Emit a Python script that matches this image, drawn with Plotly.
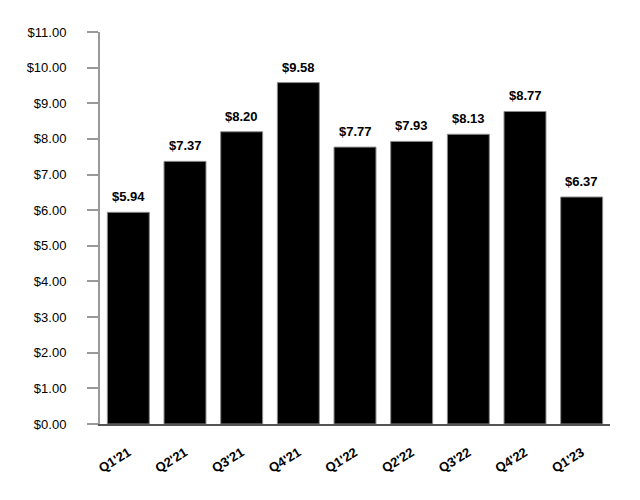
import plotly.graph_objects as go

quarters = ["Q1'21", "Q2'21", "Q3'21", "Q4'21", "Q1'22", "Q2'22", "Q3'22", "Q4'22", "Q1'23"]
values = [5.94, 7.37, 8.20, 9.58, 7.77, 7.93, 8.13, 8.77, 6.37]
y_ticks = [0, 1, 2, 3, 4, 5, 6, 7, 8, 9, 10, 11]
y_tick_labels = ["$%.2f" % v for v in y_ticks]

FONT = "Liberation Sans, Arial, sans-serif"

fig = go.Figure()
fig.add_trace(go.Bar(
    x=quarters, y=values,
    marker=dict(color="#000000", line=dict(color="#8a8a8a", width=1)),
    width=0.74,
    hoverinfo="skip",
))

for q, v in zip(quarters, values):
    fig.add_annotation(
        x=q, y=v, text="<b>$%.2f</b>" % v, showarrow=False,
        yanchor="bottom", yshift=6,
        font=dict(family=FONT, size=13, color="#000000"),
    )

fig.update_layout(
    width=640, height=500,
    margin=dict(l=92, r=38, t=24, b=84),
    paper_bgcolor="white", plot_bgcolor="white",
    showlegend=False,
    font=dict(family=FONT, size=13, color="#000000"),
)
fig.update_xaxes(
    showline=True, linecolor="#555555", linewidth=2,
    showgrid=False, ticks="", tickangle=-32,
    tickfont=dict(family=FONT, size=13, color="#000000", weight="bold"),
    ticklabelstandoff=14,
)
fig.update_yaxes(
    range=[0, 11], tickvals=y_ticks, ticktext=y_tick_labels,
    showline=True, linecolor="#999999", linewidth=2,
    showgrid=False, zeroline=False,
    ticks="outside", ticklen=11, tickcolor="#999999", tickwidth=2,
    tickfont=dict(family=FONT, size=13, color="#000000"),
    ticklabelstandoff=18,
)

fig.write_html("out.html")
